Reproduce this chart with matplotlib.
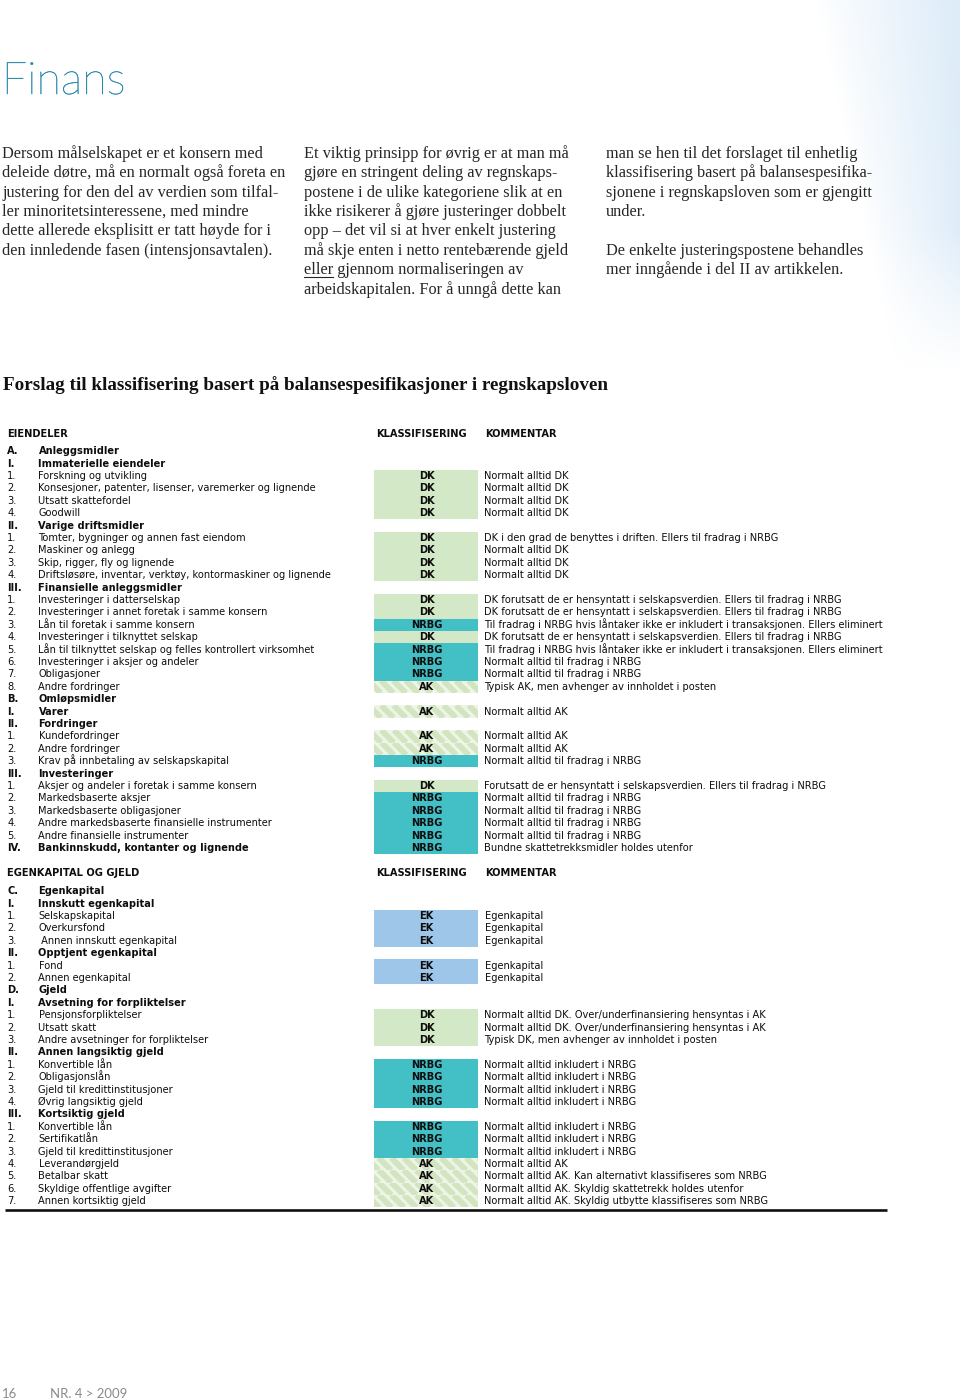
import matplotlib
matplotlib.use("Agg")
import matplotlib.pyplot as plt
import numpy as np
from matplotlib.patches import Rectangle, PathPatch
from matplotlib.collections import LineCollection
from matplotlib.textpath import TextPath
from matplotlib.font_manager import FontProperties
from matplotlib.transforms import Affine2D

# ---------------- data ----------------
title = "Finans"
col1_lines = ["Dersom målselskapet er et konsern med",
              "deleide døtre, må en normalt også foreta en",
              "justering for den del av verdien som tilfal-",
              "ler minoritetsinteressene, med mindre",
              "dette allerede eksplisitt er tatt høyde for i",
              "den innledende fasen (intensjonsavtalen)."]
col2_lines = ["Et viktig prinsipp for øvrig er at man må",
              "gjøre en stringent deling av regnskaps-",
              "postene i de ulike kategoriene slik at en",
              "ikke risikerer å gjøre justeringer dobbelt",
              "opp – det vil si at hver enkelt justering",
              "må skje enten i netto rentebærende gjeld",
              "eller gjennom normaliseringen av",
              "arbeidskapitalen. For å unngå dette kan"]
col3_lines = ["man se hen til det forslaget til enhetlig",
              "klassifisering basert på balansespesifika-",
              "sjonene i regnskapsloven som er gjengitt",
              "under.",
              "",
              "De enkelte justeringspostene behandles",
              "mer inngående i del II av artikkelen."]
heading = "Forslag til klassifisering basert på balansespesifikasjoner i regnskapsloven"
col_headers = ["KLASSIFISERING", "KOMMENTAR"]

c_dk = "DK forutsatt de er hensyntatt i selskapsverdien. Ellers til fradrag i NRBG"
c_lan = "Til fradrag i NRBG hvis låntaker ikke er inkludert i transaksjonen. Ellers eliminert"
c_nrbg = "Normalt alltid til fradrag i NRBG"
c_inkl = "Normalt alltid inkludert i NRBG"

asset_title = "EIENDELER"
asset_nums = ["A.", "I.", "1.", "2.", "3.", "4.", "II.", "1.", "2.", "3.", "4.",
              "III.", "1.", "2.", "3.", "4.", "5.", "6.", "7.", "8.",
              "B.", "I.", "II.", "1.", "2.", "3.", "III.", "1.", "2.", "3.", "4.", "5.", "IV."]
asset_labels = ["Anleggsmidler", "Immaterielle eiendeler", "Forskning og utvikling",
                "Konsesjoner, patenter, lisenser, varemerker og lignende", "Utsatt skattefordel",
                "Goodwill", "Varige driftsmidler", "Tomter, bygninger og annen fast eiendom",
                "Maskiner og anlegg", "Skip, rigger, fly og lignende",
                "Driftsløsøre, inventar, verktøy, kontormaskiner og lignende",
                "Finansielle anleggsmidler", "Investeringer i datterselskap",
                "Investeringer i annet foretak i samme konsern", "Lån til foretak i samme konsern",
                "Investeringer i tilknyttet selskap",
                "Lån til tilknyttet selskap og felles kontrollert virksomhet",
                "Investeringer i aksjer og andeler", "Obligasjoner", "Andre fordringer",
                "Omløpsmidler", "Varer", "Fordringer", "Kundefordringer", "Andre fordringer",
                "Krav på innbetaling av selskapskapital", "Investeringer",
                "Aksjer og andeler i foretak i samme konsern", "Markedsbaserte aksjer",
                "Markedsbaserte obligasjoner", "Andre markedsbaserte finansielle instrumenter",
                "Andre finansielle instrumenter", "Bankinnskudd, kontanter og lignende"]
asset_class = ["", "", "DK", "DK", "DK", "DK", "", "DK", "DK", "DK", "DK",
               "", "DK", "DK", "NRBG", "DK", "NRBG", "NRBG", "NRBG", "AK",
               "", "AK", "", "AK", "AK", "NRBG", "", "DK", "NRBG", "NRBG", "NRBG", "NRBG", "NRBG"]
asset_comments = ["", "", "Normalt alltid DK", "Normalt alltid DK", "Normalt alltid DK",
                  "Normalt alltid DK", "",
                  "DK i den grad de benyttes i driften. Ellers til fradrag i NRBG",
                  "Normalt alltid DK", "Normalt alltid DK", "Normalt alltid DK",
                  "", c_dk, c_dk, c_lan, c_dk, c_lan, c_nrbg, c_nrbg,
                  "Typisk AK, men avhenger av innholdet i posten",
                  "", "Normalt alltid AK", "", "Normalt alltid AK", "Normalt alltid AK", c_nrbg,
                  "", "Forutsatt de er hensyntatt i selskapsverdien. Ellers til fradrag i NRBG",
                  c_nrbg, c_nrbg, c_nrbg, c_nrbg, "Bundne skattetrekksmidler holdes utenfor"]

liab_title = "EGENKAPITAL OG GJELD"
liab_nums = ["C.", "I.", "1.", "2.", "3.", "II.", "1.", "2.", "D.", "I.", "1.", "2.", "3.",
             "II.", "1.", "2.", "3.", "4.", "III.", "1.", "2.", "3.", "4.", "5.", "6.", "7."]
liab_labels = ["Egenkapital", "Innskutt egenkapital", "Selskapskapital", "Overkursfond",
               " Annen innskutt egenkapital", "Opptjent egenkapital", "Fond", "Annen egenkapital",
               "Gjeld", "Avsetning for forpliktelser", "Pensjonsforpliktelser", "Utsatt skatt",
               "Andre avsetninger for forpliktelser", "Annen langsiktig gjeld", "Konvertible lån",
               "Obligasjonslån", "Gjeld til kredittinstitusjoner", "Øvrig langsiktig gjeld",
               "Kortsiktig gjeld", "Konvertible lån", "Sertifikatlån",
               "Gjeld til kredittinstitusjoner", "Leverandørgjeld", "Betalbar skatt",
               "Skyldige offentlige avgifter", "Annen kortsiktig gjeld"]
liab_class = ["", "", "EK", "EK", "EK", "", "EK", "EK", "", "", "DK", "DK", "DK",
              "", "NRBG", "NRBG", "NRBG", "NRBG", "", "NRBG", "NRBG", "NRBG", "AK", "AK", "AK", "AK"]
liab_comments = ["", "", "Egenkapital", "Egenkapital", "Egenkapital", "", "Egenkapital",
                 "Egenkapital", "", "",
                 "Normalt alltid DK. Over/underfinansiering hensyntas i AK",
                 "Normalt alltid DK. Over/underfinansiering hensyntas i AK",
                 "Typisk DK, men avhenger av innholdet i posten",
                 "", c_inkl, c_inkl, c_inkl, c_inkl, "", c_inkl, c_inkl, c_inkl,
                 "Normalt alltid AK", "Normalt alltid AK. Kan alternativt klassifiseres som NRBG",
                 "Normalt alltid AK. Skyldig skattetrekk holdes utenfor",
                 "Normalt alltid AK. Skyldig utbytte klassifiseres som NRBG"]
footer_page = "16"
footer_issue = "NR. 4 > 2009"

# ---------------- styling ----------------
colors = {"DK": "#d3e8c6", "NRBG": "#43bfc6", "EK": "#9dc6e9", "AK": "#eef5e6"}
ak_stripe = "#d2e5c0"
teal = "#2385a8"
serif = "Liberation Serif"
sans = "DejaVu Sans"
ink = "#0d0d0d"

fig = plt.figure(figsize=(9.6, 14), dpi=100)
ax = fig.add_axes([0, 0, 1, 1])
renderer = fig.canvas.get_renderer()


def width_px(s, **kw):
    t = ax.text(0, 0, s, **kw)
    w = t.get_window_extent(renderer).width
    t.remove()
    return w


def fit(s, target, **kw):
    return 10.0 * target / width_px(s, fontsize=10, **kw)


# background gradient top-right
H, W = 400, 180
yy, xx = np.mgrid[0:H, 0:W]
xs = 780 + xx
start = 815 + 0.22 * yy
alpha = np.clip((xs - start) / (975 - start), 0, 1) ** 0.9
alpha *= np.clip((370 - yy) / 140.0, 0, 1)
img = np.zeros((H, W, 4))
img[..., 0] = 0xda / 255
img[..., 1] = 0xea / 255
img[..., 2] = 0xf8 / 255
img[..., 3] = alpha
ax.imshow(img, extent=[780, 960, 400, 0], aspect="auto", zorder=0, interpolation="bilinear")
ax.set_xlim(0, 960)
ax.set_ylim(1400, 0)
ax.axis("off")

# title as a slightly condensed light outline
fp = FontProperties(family="Lato", weight="light")
tp = TextPath((0, 0), title, size=100, prop=fp)
bb = tp.get_extents()
sx = 116.0 / bb.width
sy = 32.0 / bb.height
tr = Affine2D().translate(-bb.x0, 0).scale(sx, -sy).translate(7, 94)
ax.add_patch(PathPatch(tr.transform_path(tp), facecolor=teal, edgecolor=teal, lw=0.35,
                       zorder=2))

# paragraphs
fs_par = fit(col1_lines[1], 282, family=serif)
step = 19.4
for x0, lines in [(2, col1_lines), (304, col2_lines), (606, col3_lines)]:
    for i, ln in enumerate(lines):
        yb = 153 + i * step + 4.8
        ax.text(x0, yb, ln, fontsize=fs_par, family=serif, color="#262626", va="baseline")
        if ln.startswith("eller "):
            w = width_px("eller", fontsize=fs_par, family=serif)
            ax.plot([x0, x0 + w], [yb + 2.5, yb + 2.5], color="#262626", lw=0.8)

# heading
fs_head = fit(heading, 607, family=serif, weight="bold")
ax.text(3, 390.5, heading, fontsize=fs_head, family=serif, weight="bold", color="#111111",
        va="baseline")

# table
fs_tab = fit(asset_labels[3], 279, family=sans)
row_h = 12.4
box_x0, box_x1 = 374, 478
off = 4.2


def draw_block(y_head, title_txt, nums, labels, classes, comments, y_first):
    for x, s in [(7, title_txt), (376, col_headers[0]), (485, col_headers[1])]:
        ax.text(x, y_head + off, s, fontsize=fs_tab, family=sans, weight="bold",
                va="baseline", color=ink)
    for i, (n, lab, c, com) in enumerate(zip(nums, labels, classes, comments)):
        y = y_first + i * row_h
        wt = "normal" if n[0].isdigit() else "bold"
        ax.text(7, y + off, n, fontsize=fs_tab, family=sans, weight=wt, va="baseline",
                color=ink)
        ax.text(38.5, y + off, lab, fontsize=fs_tab, family=sans, weight=wt, va="baseline",
                color=ink)
        if c:
            top = y - 5.0
            rect = Rectangle((box_x0, top), box_x1 - box_x0, row_h, facecolor=colors[c],
                             edgecolor="none", zorder=1)
            ax.add_patch(rect)
            if c == "AK":
                segs = []
                for k in range(-3, 14):
                    cx = box_x0 + k * 12.5 - (top % 12.5)
                    segs.append([(cx, top), (cx + row_h, top + row_h)])
                lc = LineCollection(segs, colors=ak_stripe, linewidths=4.2, zorder=1.5,
                                    capstyle="butt")
                ax.add_collection(lc)
                lc.set_clip_path(rect)
            ax.text((box_x0 + box_x1) / 2 + 0.5, y + off, c, fontsize=fs_tab, family=sans,
                    weight="bold", ha="center", va="baseline", color=ink, zorder=3)
            ax.text(484.5, y + off, com, fontsize=fs_tab, family=sans, va="baseline",
                    color=ink, zorder=3)


draw_block(433, asset_title, asset_nums, asset_labels, asset_class, asset_comments, 450)
draw_block(872, liab_title, liab_nums, liab_labels, liab_class, liab_comments, 890)

ax.plot([5, 887], [1209.5, 1209.5], color="#111111", lw=1.9, solid_capstyle="butt")

# footer
fs_foot = fit(footer_issue, 77, family="Lato")
ax.text(2, 1398, footer_page, fontsize=fs_foot, family="Lato", color="#8a8a8a", va="baseline")
ax.text(50, 1398, footer_issue, fontsize=fs_foot, family="Lato", color="#8a8a8a", va="baseline")

fig.savefig("out.png", dpi=100)
